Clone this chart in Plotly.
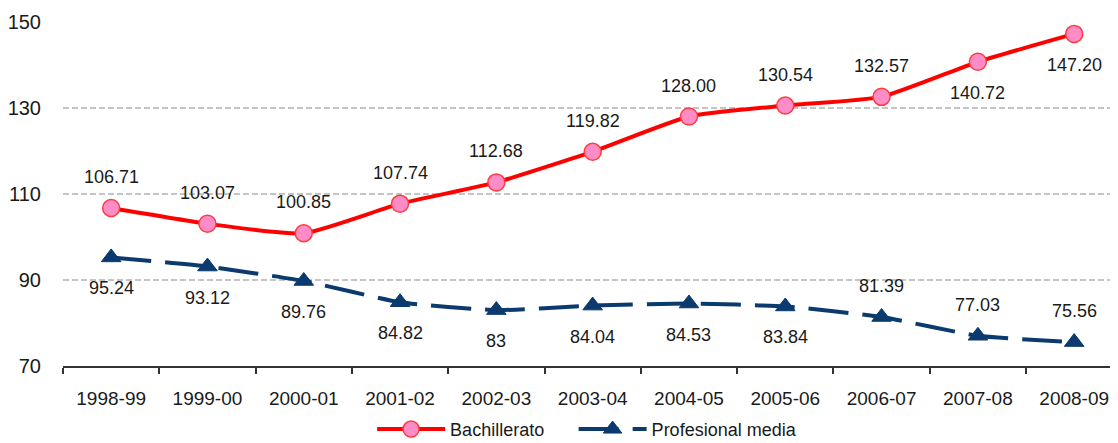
import plotly.graph_objects as go

# School years (x categories)
years = ["1998-99", "1999-00", "2000-01", "2001-02", "2002-03", "2003-04",
         "2004-05", "2005-06", "2006-07", "2007-08", "2008-09"]

# Bachillerato series
bach_values = [106.71, 103.07, 100.85, 107.74, 112.68, 119.82,
               128.00, 130.54, 132.57, 140.72, 147.20]
bach_labels = ["106.71", "103.07", "100.85", "107.74", "112.68", "119.82",
               "128.00", "130.54", "132.57", "140.72", "147.20"]

# Profesional media series
prof_values = [95.24, 93.12, 89.76, 84.82, 83, 84.04,
               84.53, 83.84, 81.39, 77.03, 75.56]
prof_labels = ["95.24", "93.12", "89.76", "84.82", "83", "84.04",
               "84.53", "83.84", "81.39", "77.03", "75.56"]

# label placement (above / below the marker)
bach_side = ["up"] * 9 + ["down", "down"]
prof_side = ["down"] * 8 + ["up", "up", "up"]

y_ticks = [70, 90, 110, 130, 150]

FONT = "Liberation Sans, Arial, sans-serif"
TXT = "#1a1a1a"
RED = "#ff0000"
PINK = "#ff8cc6"
NAVY = "#0b3a6e"

fig = go.Figure()

fig.add_trace(go.Scatter(
    x=years, y=bach_values,
    mode="lines+markers",
    name="Bachillerato",
    legend="legend",
    line=dict(color=RED, width=4, shape="spline", smoothing=0.5),
    marker=dict(symbol="circle", size=17, color=PINK,
                line=dict(color="#ff3b3b", width=1.5)),
))

fig.add_trace(go.Scatter(
    x=years, y=prof_values,
    mode="lines+markers",
    name="Profesional media",
    legend="legend2",
    line=dict(color=NAVY, width=4, dash="40px,14px",
              shape="spline", smoothing=0.5),
    marker=dict(symbol="triangle-up", size=17, color=NAVY,
                line=dict(color=NAVY, width=1)),
))

# data labels
annotations = []
for x, v, t, s in zip(years, bach_values, bach_labels, bach_side):
    annotations.append(dict(x=x, y=v, text=t, showarrow=False,
                            yshift=31 if s == "up" else -31,
                            font=dict(family=FONT, size=18, color=TXT)))
for x, v, t, s in zip(years, prof_values, prof_labels, prof_side):
    annotations.append(dict(x=x, y=v, text=t, showarrow=False,
                            yshift=31 if s == "up" else -31,
                            font=dict(family=FONT, size=18, color=TXT)))

legend_style = dict(orientation="h", xanchor="left",
                    y=-0.13, yanchor="top",
                    font=dict(family=FONT, size=18, color=TXT),
                    itemwidth=68)

# the page body adds an 8px margin, so the figure is sized to fill the rest
fig.update_layout(
    width=1110, height=435,
    margin=dict(l=55, r=0, t=13, b=77, autoexpand=False),
    plot_bgcolor="white",
    paper_bgcolor="white",
    font=dict(family=FONT, size=18, color=TXT),
    annotations=annotations,
    showlegend=True,
    legend=dict(x=0.293, **legend_style),
    legend2=dict(x=0.484, **legend_style),
    xaxis=dict(
        type="category",
        range=[-0.5, 10.455],
        automargin=False,
        showgrid=False,
        showline=True, linecolor="#333333", linewidth=2,
        ticks="outside", tickson="boundaries", ticklen=6,
        tickcolor="#333333", tickwidth=2,
        ticklabelstandoff=14,
        tickfont=dict(family=FONT, size=19, color=TXT),
        fixedrange=True,
    ),
    yaxis=dict(
        range=[70, 150.2],
        automargin=False,
        tickvals=y_ticks,
        showgrid=True, gridcolor="#c4c4c4", griddash="6px,3px", gridwidth=2,
        zeroline=False, showline=False,
        ticklabelstandoff=21,
        tickfont=dict(family=FONT, size=20, color=TXT),
    ),
)

fig.write_html("out.html")
